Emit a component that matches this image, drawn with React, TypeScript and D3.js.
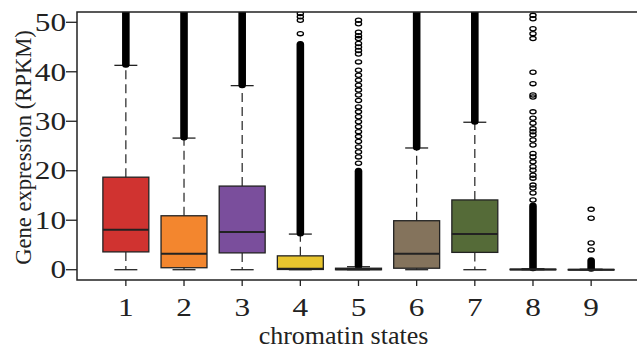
import { useEffect, useRef } from 'react'
import * as d3 from 'd3'

const WIDTH = 637
const HEIGHT = 349
const FRAME = { left: 77, right: 640, top: 12, bottom: 280 }

const STATES = ['1', '2', '3', '4', '5', '6', '7', '8', '9']
const BOX_COLORS = ['#d03330', '#f3862e', '#7a4e9c', '#e8c52e', '#4f5a6e', '#84735c', '#556b38', '#9a9a9a', '#9a9a9a']

const WHISKER_LO = [0, 0, 0, 0, 0, 0, 0, 0, 0]
const Q1 = [3.6, 0.4, 3.4, 0.05, 0.0, 0.3, 3.5, 0.0, 0.0]
const MEDIAN = [8.1, 3.2, 7.6, 0.2, 0.1, 3.2, 7.2, 0.05, 0.0]
const Q3 = [18.7, 10.9, 16.9, 2.8, 0.3, 9.9, 14.1, 0.1, 0.05]
const WHISKER_HI = [41.3, 26.6, 37.2, 7.2, 0.6, 24.6, 29.8, 0.2, 0.1]

// top of the solid run of overlapping outliers above each upper whisker
const DENSE_HI = [60, 60, 60, 45.7, 20.1, 60, 60, 13.1, 2.0]

// outliers still drawn as separate circles
const SPARSE_OUTLIERS: number[][] = [
  [],
  [],
  [],
  [47.7, 50.4, 51.1, 51.8],
  [50.4, 49.7, 48.0, 47.3, 46.7, 45.7, 45.0, 44.3, 43.6, 42.0, 40.3, 39.3, 38.3, 37.3, 36.3, 35.3, 34.2,
    32.9, 31.9, 30.9, 29.9, 28.9, 27.9, 26.9, 25.9, 24.8, 23.8, 22.8, 21.5],
  [],
  [],
  [51.4, 50.7, 48.7, 47.7, 46.7, 39.9, 37.6, 35.3, 34.9, 31.9, 30.6, 29.6, 28.5, 27.9, 27.2, 26.2, 25.2,
    23.5, 22.8, 21.8, 20.8, 20.1, 19.1, 18.5, 17.1, 16.5, 15.5, 14.1],
  [12.2, 10.4, 5.4, 4.0],
]

const Y_TICKS = [0, 10, 20, 30, 40, 50]

const INK = '#222'
const FONT = '"Liberation Serif", "Times New Roman", serif'
const DIGIT_SX = 1.25

export default function App() {
  const svgRef = useRef<SVGSVGElement>(null)

  useEffect(() => {
    if (!svgRef.current) return
    const svg = d3.select(svgRef.current)
    svg.selectAll('*').remove()

    const x = d3.scaleLinear().domain([0.16, 9.84]).range([FRAME.left, FRAME.right])
    const y = d3.scaleLinear().domain([-2.08, 52.08]).range([FRAME.bottom, FRAME.top])

    const step = x(2) - x(1)
    const boxW = step * 0.79
    const capW = boxW / 2

    svg.append('defs').append('clipPath').attr('id', 'plot-clip')
      .append('rect')
      .attr('x', FRAME.left).attr('y', FRAME.top)
      .attr('width', FRAME.right - FRAME.left).attr('height', FRAME.bottom - FRAME.top)

    const plot = svg.append('g').attr('clip-path', 'url(#plot-clip)')

    STATES.forEach((s, i) => {
      const cx = x(i + 1)
      const g = plot.append('g')

      // whiskers
      g.append('line')
        .attr('x1', cx).attr('x2', cx)
        .attr('y1', y(Q3[i])).attr('y2', y(WHISKER_HI[i]))
        .attr('stroke', INK).attr('stroke-width', 1.2).attr('stroke-dasharray', '9,5')
      g.append('line')
        .attr('x1', cx).attr('x2', cx)
        .attr('y1', y(Q1[i])).attr('y2', y(WHISKER_LO[i]))
        .attr('stroke', INK).attr('stroke-width', 1.2).attr('stroke-dasharray', '9,5')
      ;[WHISKER_HI[i], WHISKER_LO[i]].forEach(v => {
        g.append('line')
          .attr('x1', cx - capW / 2).attr('x2', cx + capW / 2)
          .attr('y1', y(v)).attr('y2', y(v))
          .attr('stroke', INK).attr('stroke-width', 1.3)
      })

      // dense outliers
      const top = y(DENSE_HI[i]) - 2.5
      const bot = y(WHISKER_HI[i]) + 2.5
      g.append('rect')
        .attr('x', cx - 3.8).attr('width', 7.6)
        .attr('y', top).attr('height', bot - top)
        .attr('rx', 3.5)
        .attr('fill', '#000')

      // sparse outliers
      g.selectAll('ellipse')
        .data(SPARSE_OUTLIERS[i])
        .enter()
        .append('ellipse')
        .attr('cx', cx).attr('cy', d => y(d))
        .attr('rx', 3.1).attr('ry', 2.1)
        .attr('fill', 'none').attr('stroke', '#000').attr('stroke-width', 1.3)

      // box
      g.append('rect')
        .attr('x', cx - boxW / 2).attr('width', boxW)
        .attr('y', y(Q3[i])).attr('height', Math.max(y(Q1[i]) - y(Q3[i]), 0.5))
        .attr('fill', BOX_COLORS[i])
        .attr('stroke', INK).attr('stroke-width', 1.3)
      g.append('line')
        .attr('x1', cx - boxW / 2).attr('x2', cx + boxW / 2)
        .attr('y1', y(MEDIAN[i])).attr('y2', y(MEDIAN[i]))
        .attr('stroke', INK).attr('stroke-width', 2)
      g.attr('data-state', s)
    })

    // frame
    svg.append('path')
      .attr('d', `M${FRAME.right},${FRAME.top}H${FRAME.left}V${FRAME.bottom}H${FRAME.right}`)
      .attr('fill', 'none').attr('stroke', INK).attr('stroke-width', 1.5)

    // y axis
    Y_TICKS.forEach(t => {
      svg.append('line')
        .attr('x1', FRAME.left - 11).attr('x2', FRAME.left)
        .attr('y1', y(t)).attr('y2', y(t))
        .attr('stroke', INK).attr('stroke-width', 1.3)
      svg.append('text')
        .attr('transform', `translate(${FRAME.left - 11},${y(t)}) scale(${DIGIT_SX},1)`)
        .attr('text-anchor', 'end').attr('dy', '0.35em')
        .attr('font-family', FONT).attr('font-size', 25).attr('fill', INK)
        .text(t)
    })

    // x axis
    STATES.forEach((s, i) => {
      svg.append('line')
        .attr('x1', x(i + 1)).attr('x2', x(i + 1))
        .attr('y1', FRAME.bottom).attr('y2', FRAME.bottom + 6)
        .attr('stroke', INK).attr('stroke-width', 1.3)
      svg.append('text')
        .attr('transform', `translate(${x(i + 1)},316) scale(${DIGIT_SX},1)`)
        .attr('text-anchor', 'middle')
        .attr('font-family', FONT).attr('font-size', 25).attr('fill', INK)
        .text(s)
    })

    svg.append('text')
      .attr('x', (257 + 430) / 2).attr('y', 344)
      .attr('text-anchor', 'middle')
      .attr('font-family', FONT).attr('font-size', 26).attr('fill', INK)
      .text('chromatin states')

    svg.append('text')
      .attr('transform', `translate(31,${(30 + 265) / 2}) rotate(-90)`)
      .attr('text-anchor', 'middle')
      .attr('font-family', FONT).attr('font-size', 22.6).attr('fill', INK)
      .text('Gene expression (RPKM)')
  }, [])

  return (
    <div style={{ position: 'absolute', left: 0, top: 0, background: '#fff' }}>
      <svg ref={svgRef} width={WIDTH} height={HEIGHT} style={{ display: 'block' }} />
    </div>
  )
}
